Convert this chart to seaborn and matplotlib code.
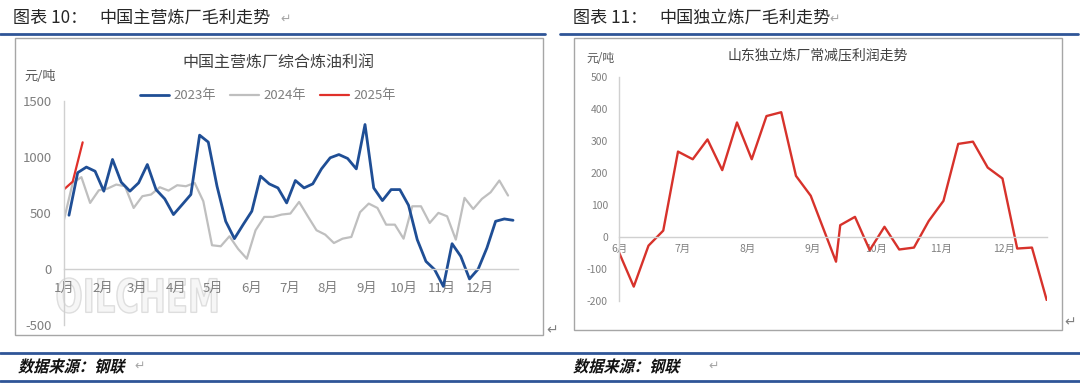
import numpy as np
import pandas as pd
import seaborn as sns
import matplotlib.pyplot as plt
from matplotlib.lines import Line2D
from matplotlib.patches import Rectangle, PathPatch
from matplotlib.textpath import TextPath
from matplotlib.font_manager import FontProperties
from matplotlib.transforms import Affine2D

sns.set_theme(style="white")
plt.rcParams["font.family"] = ["Noto Sans CJK SC", "DejaVu Sans"]
plt.rcParams["axes.unicode_minus"] = False

W, H = 1080, 391

# ---- left chart: 中国主营炼厂综合炼油利润 (weekly, 元/吨)
profit_2023 = [480, 860, 910, 873, 695, 978, 775, 695, 769, 933, 709, 626, 486,
               575, 665, 1195, 1133, 740, 426, 271, 396, 516, 829, 760, 724, 590,
               790, 724, 760, 894, 993, 1022, 987, 894, 1290, 724, 611, 709, 709,
               569, 262, 68, -6, -155, 226, 113, -89, 0, 188, 426, 447, 435]
profit_2024 = [441, 769, 820, 590, 703, 718, 754, 739, 545, 650, 665, 730, 700,
               748, 739, 769, 605, 212, 203, 292, 179, 92, 346, 465, 465, 486,
               495, 599, 471, 346, 307, 232, 271, 286, 507, 584, 545, 396, 396,
               271, 560, 560, 411, 501, 471, 262, 635, 536, 626, 685, 790, 656]
profit_2025 = [711, 780, 1131]
start_2023 = "2023-01-05"
start_2024 = "2024-01-01"
dates_2025 = ["2025-01-01", "2025-01-08", "2025-01-16"]
year_labels = ["2023年", "2024年", "2025年"]
month_labels = [f"{m}月" for m in range(1, 13)]

# ---- right chart: 山东独立炼厂常减压利润走势
sd_dates = ["2024-06-01", "2024-06-08", "2024-06-15", "2024-06-22", "2024-06-29",
            "2024-07-06", "2024-07-13", "2024-07-20", "2024-07-27", "2024-08-03",
            "2024-08-10", "2024-08-17", "2024-08-24", "2024-08-31", "2024-09-12",
            "2024-09-14", "2024-09-21", "2024-09-28", "2024-10-05", "2024-10-12",
            "2024-10-19", "2024-10-26", "2024-11-02", "2024-11-09", "2024-11-16",
            "2024-11-23", "2024-11-30", "2024-12-07", "2024-12-14", "2024-12-21"]
sd_profit = [-49, -156, -28, 19, 266, 242, 304, 208, 357, 242, 377, 389, 190, 128,
             -78, 36, 62, -42, 31, -40, -34, 49, 112, 290, 297, 216, 182, -37, -34, -198]
sd_month_labels = [f"{m}月" for m in range(6, 13)]

colors = {"2023年": "#1f4e95", "2024年": "#bfbfbf", "2025年": "#e0302a"}
widths = {"2023年": 2.0, "2024年": 1.6, "2025年": 1.6}

fig = plt.figure(figsize=(W / 100, H / 100), dpi=100)
fig.patch.set_facecolor("white")
px = Affine2D().scale(1 / W, 1 / H) + fig.transFigure  # pixel coords, y from bottom


def fx(x):
    return x / W


def fy(y):
    return 1 - y / H


# document decorations
for x0, x1 in [(0, 545), (560, 1078)]:
    fig.add_artist(Line2D([fx(x0), fx(x1)], [fy(34), fy(34)], color="#2f5597", lw=2.0))
for y in [353, 381]:
    fig.add_artist(Line2D([0, 1], [fy(y), fy(y)], color="#2f5597", lw=2.0))
fig.add_artist(Rectangle((fx(15), fy(335)), fx(528), 297 / H, fill=False,
                         edgecolor="#a6a6a6", lw=1.0))
fig.add_artist(Rectangle((fx(574), fy(330)), fx(488), 292 / H, fill=False,
                         edgecolor="#a6a6a6", lw=1.0))

fig.text(fx(13), fy(18), "图表 10：", fontsize=12.3, color="#262626", va="center")
fig.text(fx(99), fy(18), "中国主营炼厂毛利走势", fontsize=12.3, color="#262626", va="center")
fig.text(fx(280), fy(19), "↵", fontsize=9, color="#a6a6a6", va="center", family="DejaVu Sans")
fig.text(fx(573), fy(18), "图表 11：", fontsize=12.3, color="#262626", va="center")
fig.text(fx(659), fy(18), "中国独立炼厂毛利走势", fontsize=12.3, color="#262626", va="center")
fig.text(fx(829), fy(19), "↵", fontsize=9, color="#a6a6a6", va="center", family="DejaVu Sans")
fig.text(fx(546), fy(330), "↵", fontsize=10, color="#808080", va="center", family="DejaVu Sans")
fig.text(fx(1064), fy(322), "↵", fontsize=10, color="#808080", va="center", family="DejaVu Sans")

# slanted bold footer text
foot_font = FontProperties(family="Noto Sans CJK SC", weight="bold")
for x0, arrow_x in [(18, 134), (573, 708)]:
    tp = TextPath((0, 0), "数据来源：钢联", size=16, prop=foot_font)
    path = (Affine2D().scale(0.95, 1.0).skew_deg(14, 0).translate(x0, H - 372)).transform_path(tp)
    fig.add_artist(PathPatch(path, transform=px, facecolor="#111111", edgecolor="none"))
    fig.text(fx(arrow_x), fy(366), "↵", fontsize=9, color="#a6a6a6", va="center",
             family="DejaVu Sans")

# ---- left chart
ax1 = fig.add_axes([fx(64), fy(325), 454 / W, 224 / H])
ax1.set_facecolor("none")

# faint OILCHEM watermark, squeezed into its box
wm = TextPath((0, 0), "OILCHEM", size=40,
              prop=FontProperties(family="DejaVu Sans", weight="bold"))
ext = wm.get_extents()
wm_path = (Affine2D().translate(-ext.x0, -ext.y0)
           .scale(160 / ext.width, 35 / ext.height)
           .translate(57, H - 313)).transform_path(wm)
ax1.add_patch(PathPatch(wm_path, transform=px, facecolor="#f6f6f6", edgecolor="#dedede",
                        lw=1.0, zorder=0.5, clip_on=False))

d23 = pd.date_range(start_2023, periods=len(profit_2023), freq="7D")
d24 = pd.date_range(start_2024, periods=len(profit_2024), freq="7D")
d25 = pd.to_datetime(pd.Series(dates_2025))
left_df = pd.concat([
    pd.DataFrame({"day": d23.dayofyear - 1, "profit": profit_2023, "year": "2023年"}),
    pd.DataFrame({"day": d24.dayofyear - 1, "profit": profit_2024, "year": "2024年"}),
    pd.DataFrame({"day": d25.dt.dayofyear - 1, "profit": profit_2025, "year": "2025年"}),
], ignore_index=True)

sns.lineplot(data=left_df, x="day", y="profit", hue="year", size="year",
             hue_order=["2024年", "2023年", "2025年"], palette=colors, sizes=widths,
             estimator=None, sort=False, legend=False, ax=ax1)

month_pos = list(pd.date_range("2023-01-01", periods=12, freq="MS").dayofyear - 1)
ax1.set_xlim(0, 365)
ax1.set_ylim(-500, 1500)
ax1.set_xticks(month_pos + [365])
ax1.set_xticklabels(month_labels + [""])
ax1.set_yticks([-500, 0, 500, 1000, 1500])
ax1.set_xlabel("")
ax1.set_ylabel("")
for s in ["top", "right"]:
    ax1.spines[s].set_visible(False)
ax1.spines["bottom"].set_position(("data", 0))
for s in ["left", "bottom"]:
    ax1.spines[s].set_color("#d0d0d0")
    ax1.spines[s].set_linewidth(1.0)
ax1.tick_params(axis="both", direction="in", length=4, width=1, color="#d0d0d0",
                labelcolor="#7f7f7f", labelsize=9.5)
ax1.tick_params(axis="x", pad=9)
ax1.tick_params(axis="y", pad=9)

handles = [Line2D([], [], color=colors[y], lw=widths[y]) for y in year_labels]
leg = ax1.legend(handles, year_labels, loc="center", bbox_to_anchor=(fx(268), fy(96)),
                 bbox_transform=fig.transFigure, ncol=3, frameon=False, fontsize=9.5,
                 handlelength=2.2, handletextpad=0.3, columnspacing=1.1)
for t in leg.get_texts():
    t.set_color("#7f7f7f")

fig.text(fx(278), fy(63), "中国主营炼厂综合炼油利润", fontsize=11.5, color="#404040",
         ha="center", va="center")
fig.text(fx(40), fy(76), "元/吨", fontsize=9.5, color="#595959", ha="center", va="center")

# ---- right chart
ax2 = fig.add_axes([fx(619), fy(300.7), 427.7 / W, 224 / H])
ax2.set_facecolor("none")
sd_x = pd.to_datetime(pd.Series(sd_dates))
sns.lineplot(x=sd_x, y=sd_profit, color="#d7322b", lw=1.7, estimator=None, ax=ax2)

month_starts = pd.date_range("2024-06-01", "2024-12-01", freq="MS")
ax2.set_xlim(pd.Timestamp("2024-06-01"), pd.Timestamp("2024-12-21"))
ax2.set_ylim(-200, 500)
ax2.set_xticks(month_starts)
ax2.set_xticklabels(sd_month_labels)
ax2.set_yticks(np.arange(-200, 501, 100))
ax2.set_xlabel("")
ax2.set_ylabel("")
for s in ["top", "right"]:
    ax2.spines[s].set_visible(False)
ax2.spines["bottom"].set_position(("data", 0))
for s in ["left", "bottom"]:
    ax2.spines[s].set_color("#d0d0d0")
    ax2.spines[s].set_linewidth(1.0)
ax2.tick_params(axis="both", direction="in", length=4, width=1, color="#d0d0d0",
                labelcolor="#808080", labelsize=7.5)
ax2.tick_params(axis="x", pad=5)
ax2.tick_params(axis="y", pad=8)

fig.text(fx(818), fy(55), "山东独立炼厂常减压利润走势", fontsize=10, color="#404040",
         ha="center", va="center")
fig.text(fx(600), fy(59), "元/吨", fontsize=8.5, color="#595959", ha="center", va="center")

fig.savefig("out.png", dpi=100, facecolor="white")
